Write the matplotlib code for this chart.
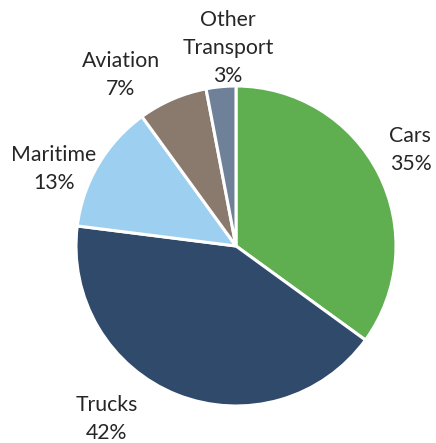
import matplotlib
matplotlib.use("Agg")
import matplotlib.pyplot as plt

# transport segment shares (%), clockwise from 12 o'clock
segments = ["Cars", "Trucks", "Maritime", "Aviation", "Other\nTransport"]
shares = [35, 42, 13, 7, 3]
colors = ["#5fae50", "#2f4a6a", "#9dcff1", "#8a7a6d", "#6e8199"]

# label anchor (data units, pie radius = 1)
label_xy = [(1.09, 0.60), (-0.81, -1.08), (-1.14, 0.48), (-0.72, 1.07), (-0.05, 1.24)]

plt.rcParams["font.family"] = ["Lato", "DejaVu Sans"]

fig = plt.figure(figsize=(4.36, 4.43), dpi=100)
ax = fig.add_axes([76 / 436, 37 / 443, 320 / 436, 320 / 443])

ax.pie(shares, colors=colors, startangle=90, counterclock=False,
       wedgeprops={"edgecolor": "white", "linewidth": 2.2}, radius=1.0)

for name, val, (x, y) in zip(segments, shares, label_xy):
    ax.text(x, y, f"{name}\n{val}%", ha="center", va="center",
            fontsize=15.3, color="#262626", linespacing=1.5)

ax.set_xlim(-1, 1)
ax.set_ylim(-1, 1)
ax.set_aspect("equal")
ax.axis("off")

fig.savefig("out.png", dpi=100)
